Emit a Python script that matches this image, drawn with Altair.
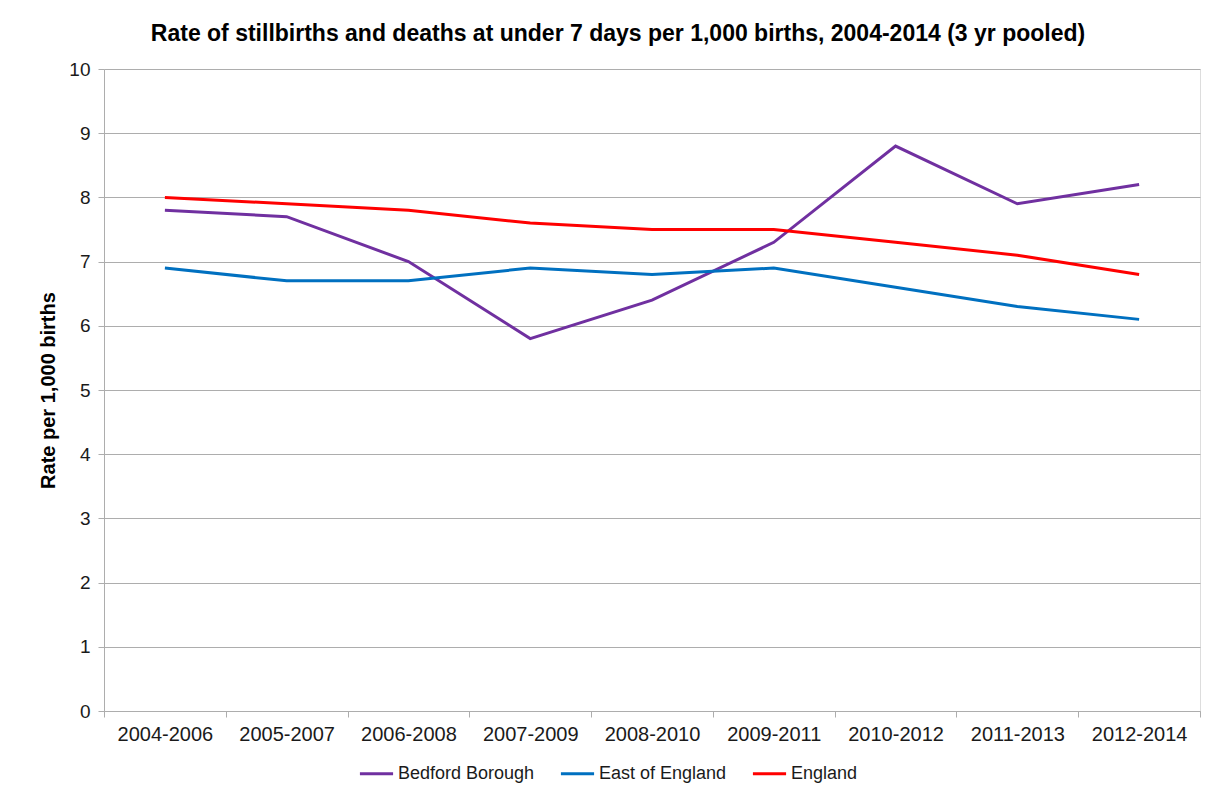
import altair as alt
import pandas as pd

periods = ["2004-2006", "2005-2007", "2006-2008", "2007-2009", "2008-2010",
           "2009-2011", "2010-2012", "2011-2013", "2012-2014"]
bedford = [7.8, 7.7, 7.0, 5.8, 6.4, 7.3, 8.8, 7.9, 8.2]
east_of_england = [6.9, 6.7, 6.7, 6.9, 6.8, 6.9, 6.6, 6.3, 6.1]
england = [8.0, 7.9, 7.8, 7.6, 7.5, 7.5, 7.3, 7.1, 6.8]
series_names = ["Bedford Borough", "East of England", "England"]
series_colors = ["#7030A0", "#0070C0", "#FF0000"]
y_ticks = list(range(0, 11))

rows = []
for name, vals in zip(series_names, [bedford, east_of_england, england]):
    for p, v in zip(periods, vals):
        rows.append({"period": p, "rate": v, "series": name})
df = pd.DataFrame(rows)

font = "Liberation Sans"
grid_col = "#ADADAD"

chart = alt.Chart(df).mark_line(strokeWidth=3).encode(
    x=alt.X("period:N", sort=periods, title=None,
            scale=alt.Scale(type="band", paddingInner=0, paddingOuter=0),
            axis=alt.Axis(labelAngle=0, tickBand="extent", grid=False,
                          domainColor=grid_col, tickColor=grid_col, tickSize=6,
                          labelPadding=7, labelFont=font, labelFontSize=20,
                          labelColor="#1a1a1a")),
    y=alt.Y("rate:Q", scale=alt.Scale(domain=[0, 10], nice=False),
            title="Rate per 1,000 births",
            axis=alt.Axis(values=y_ticks, grid=True, gridColor=grid_col,
                          domainColor=grid_col, tickColor=grid_col, tickSize=6,
                          labelPadding=8, labelFont=font, labelFontSize=19,
                          labelColor="#1a1a1a",
                          titleFont=font, titleFontSize=20, titleFontWeight="bold",
                          titleColor="#000000", titlePadding=10)),
    color=alt.Color("series:N",
                    scale=alt.Scale(domain=series_names, range=series_colors),
                    legend=alt.Legend(title=None, orient="none", direction="horizontal",
                                      legendX=254, legendY=686, columns=3,
                                      symbolType="stroke", symbolSize=1100,
                                      symbolStrokeWidth=3, labelFont=font,
                                      labelFontSize=18, labelColor="#1a1a1a",
                                      labelOffset=3, columnPadding=19)),
).properties(
    width=1096,
    height=642,
    title=alt.TitleParams(
        "Rate of stillbirths and deaths at under 7 days per 1,000 births, 2004-2014 (3 yr pooled)",
        font=font, fontSize=23, fontWeight="bold", color="#000000",
        anchor="middle", dx=-34, offset=14),
    autosize=alt.AutoSizeParams(type="none"),
    padding={"left": 104, "top": 69, "right": 21, "bottom": 83},
).configure_view(stroke="transparent").configure(background="white")

chart.save("out.html", embed_options={"renderer": "svg", "actions": False})
